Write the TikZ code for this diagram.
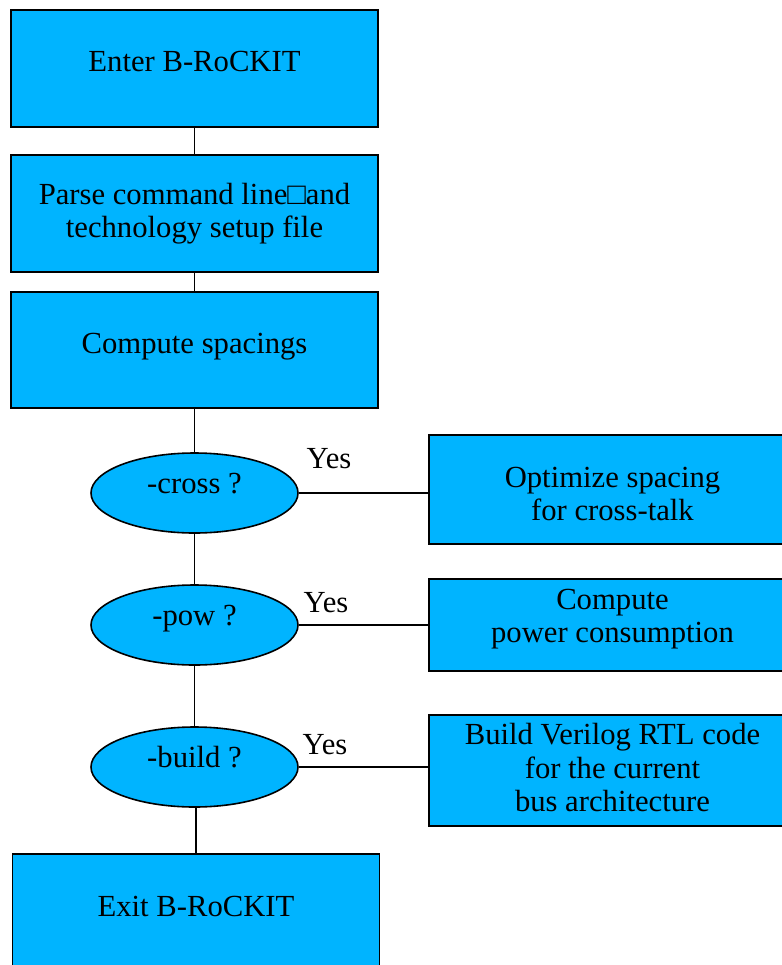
\documentclass[tikz,border=0pt]{standalone}
\usepackage{fontspec}
\setmainfont{Liberation Serif}
\usetikzlibrary{shapes.geometric}

\definecolor{boxblue}{RGB}{0,180,255}
\tikzset{
  stepbox/.style={rectangle,draw=black,line width=1.2pt,fill=boxblue,align=center,
    minimum width=275.25pt,inner sep=0pt},
  onerow/.style={text height=16pt,text depth=11.5pt},
  testnode/.style={ellipse,draw=black,line width=1.2pt,fill=boxblue,minimum width=155.25pt,
    minimum height=60pt,inner sep=0pt,text height=16pt,text depth=16pt},
  yesnote/.style={inner sep=0pt},
  link/.style={line width=1.2pt}
}

\begin{document}
\begin{tikzpicture}[x=0.75pt,y=-0.75pt,every node/.style={font=\fontsize{23}{25}\selectfont}]
\useasboundingbox (0,0) rectangle (782,965);

% main column
\node[stepbox,onerow,minimum height=87.75pt] (enter) at (194.5,68.5) {Enter B-RoCKIT};
\node[stepbox,minimum height=87.75pt] (parse) at (194.5,213.5) {Parse command line□and\\technology setup file};
\node[stepbox,onerow,minimum height=87pt] (spacing) at (194.5,350) {Compute spacings};
\node[testnode] (cross) at (194.5,493) {-cross ?};
\node[testnode] (pow) at (194.5,625) {-pow ?};
\node[testnode] (build) at (194.5,767) {-build ?};
\node[stepbox,onerow,minimum height=88.5pt] (exit) at (196,913) {Exit B-RoCKIT};

% side boxes
\node[stepbox,minimum height=81.75pt,text height=46.5pt] (optcross) at (612.5,489.5) {Optimize spacing\\for cross-talk};
\node[stepbox,minimum height=69pt,text depth=14pt] (powcalc) at (612.5,625) {Compute\\power consumption};
\node[stepbox,minimum height=83.25pt,text depth=4.5pt] (rtlcode) at (612.5,770.5) {Build Verilog RTL code\\for the current\\bus architecture};

% connectors
\draw[link] (enter) -- (parse);
\draw[link] (parse) -- (spacing);
\draw[link] (spacing) -- (cross);
\draw[link] (cross) -- (pow);
\draw[link] (pow) -- (build);
\draw[link] (exit.north) -- (exit.north |- build.south);
\draw[link] (cross.east) -- (cross.east -| optcross.west);
\draw[link] (pow.east) -- (pow.east -| powcalc.west);
\draw[link] (build.east) -- (build.east -| rtlcode.west);

\node[yesnote] (yes1) at (329,459) {Yes};
\node[yesnote] (yes2) at (326,603) {Yes};
\node[yesnote] (yes3) at (325,745) {Yes};

\end{tikzpicture}
\end{document}
